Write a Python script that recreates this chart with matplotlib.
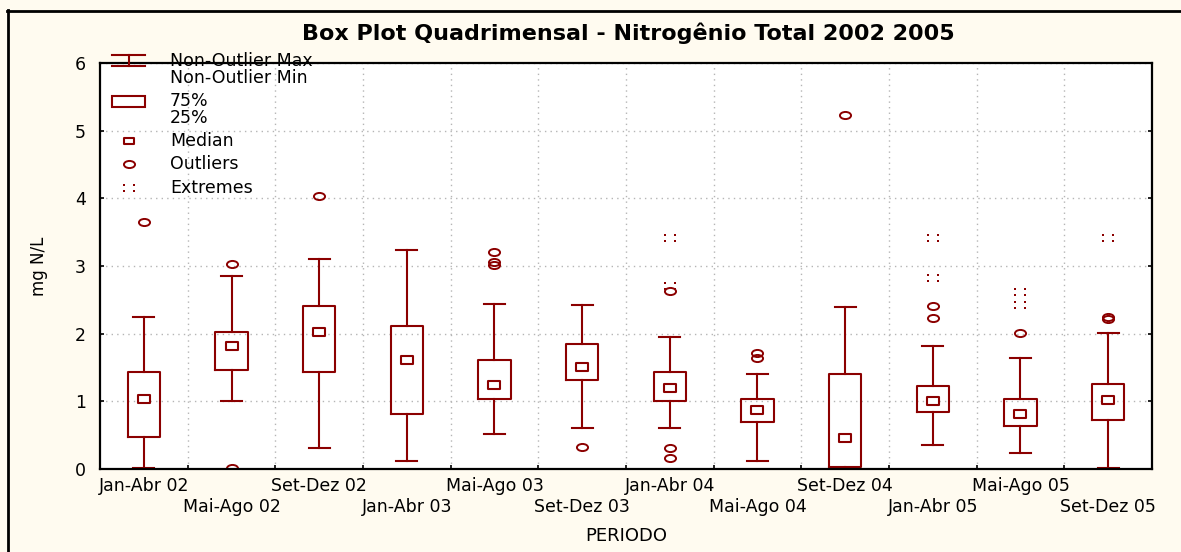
import numpy as np
import matplotlib
matplotlib.use('Agg')
import matplotlib.pyplot as plt
from matplotlib.path import Path
from matplotlib.lines import Line2D
from matplotlib.patches import Rectangle
import matplotlib.transforms as mtransforms

# data (mg N/L)
periods = ['Jan-Abr 02', 'Mai-Ago 02', 'Set-Dez 02', 'Jan-Abr 03', 'Mai-Ago 03', 'Set-Dez 03',
           'Jan-Abr 04', 'Mai-Ago 04', 'Set-Dez 04', 'Jan-Abr 05', 'Mai-Ago 05', 'Set-Dez 05']
whis_lo = [0.01, 1.00, 0.31, 0.12, 0.51, 0.60, 0.60, 0.12, 0.01, 0.36, 0.24, 0.01]
q1 = [0.48, 1.47, 1.43, 0.81, 1.04, 1.32, 1.01, 0.69, 0.03, 0.84, 0.63, 0.73]
median = [1.04, 1.82, 2.02, 1.61, 1.24, 1.51, 1.20, 0.87, 0.46, 1.00, 0.82, 1.02]
q3 = [1.43, 2.02, 2.41, 2.12, 1.61, 1.84, 1.43, 1.03, 1.41, 1.23, 1.03, 1.26]
whis_hi = [2.24, 2.85, 3.11, 3.23, 2.44, 2.43, 1.95, 1.41, 2.40, 1.82, 1.64, 2.01]
outliers = [[3.65], [3.03, 0.01], [4.03], [], [3.21, 3.06, 3.02], [0.33],
            [2.63, 0.31, 0.16], [1.71, 1.64], [5.23], [2.41, 2.23], [2.01], [2.24, 2.21]]
extremes = [[], [], [], [], [], [], [3.41, 2.70], [], [], [3.41, 2.82], [2.62, 2.42], [3.42]]

RED = '#8B0000'
BG = '#FFFBF0'
W, H = 1181, 552

# marker shapes
ellipse = Path.unit_circle().transformed(mtransforms.Affine2D().scale(1, 0.64))
rect = Path([(-1, -0.62), (1, -0.62), (1, 0.62), (-1, 0.62), (-1, -0.62)],
            [Path.MOVETO, Path.LINETO, Path.LINETO, Path.LINETO, Path.CLOSEPOLY])
verts, codes = [], []
for cx in (-1, 1):
    for cy in (-0.62, 0.62):
        s = 0.2
        verts += [(cx - s, cy - s), (cx + s, cy - s), (cx + s, cy + s), (cx - s, cy + s), (cx - s, cy - s)]
        codes += [Path.MOVETO, Path.LINETO, Path.LINETO, Path.LINETO, Path.CLOSEPOLY]
dots = Path(verts, codes)

fig = plt.figure(figsize=(W / 100, H / 100), dpi=100, facecolor=BG)
ax = fig.add_axes([100 / W, 83 / H, 1052 / W, 406 / H])
ax.set_facecolor('white')

stats = []
for i in range(len(periods)):
    stats.append({'med': median[i], 'q1': q1[i], 'q3': q3[i], 'whislo': whis_lo[i],
                  'whishi': whis_hi[i], 'fliers': outliers[i], 'mean': median[i]})

pos = np.arange(1, len(periods) + 1)
line_kw = dict(color=RED, linewidth=1.5)
ax.bxp(stats, positions=pos, widths=0.37, capwidths=0.24, showmeans=True, meanline=False,
       boxprops=line_kw, whiskerprops=line_kw, capprops=line_kw,
       medianprops=dict(linewidth=0),
       meanprops=dict(marker=rect, markersize=8.8, markerfacecolor='white',
                      markeredgecolor=RED, markeredgewidth=1.5, linestyle='none'),
       flierprops=dict(marker=ellipse, markersize=8, markerfacecolor='none',
                       markeredgecolor=RED, markeredgewidth=1.4, linestyle='none'),
       manage_ticks=False)

for i, ext in enumerate(extremes):
    if ext:
        ax.plot([pos[i]] * len(ext), ext, linestyle='none', marker=dots, markersize=8,
                markerfacecolor=RED, markeredgewidth=0)

ax.set_xlim(0.5, 12.5)
ax.set_ylim(0, 6)
ax.set_yticks(range(0, 7))
ax.set_xticks(pos)
ax.set_xticklabels([p if i % 2 == 0 else '\n' + p for i, p in enumerate(periods)])
ax.set_xticks(np.arange(1.5, 12, 1), minor=True)
ax.tick_params(axis='x', which='major', length=0, pad=6, labelsize=12.5)
ax.tick_params(axis='x', which='minor', direction='in', length=3, width=1.2)
ax.tick_params(axis='y', direction='in', right=True, length=3, width=1.2, labelsize=12.5, pad=10)
ax.set_axisbelow(True)
ax.grid(which='minor', axis='x', linestyle=(0, (1, 3)), color='#b5b5b5', linewidth=1)
ax.grid(which='major', axis='y', linestyle=(0, (1, 3)), color='#b5b5b5', linewidth=1)
ax.grid(which='major', axis='x', visible=False)
for sp in ax.spines.values():
    sp.set_linewidth(1.6)

ax.set_xlabel('PERIODO', fontsize=13)
ax.xaxis.set_label_coords(0.5, (469 - 527) / 406)
ax.set_ylabel('mg N/L', fontsize=12)
ax.yaxis.set_label_coords((48 - 100) / 1052, 0.5)

fig.text(628 / W, 1 - 33 / H, 'Box Plot Quadrimensal - Nitrogênio Total 2002 2005',
         ha='center', va='center', fontsize=16, fontweight='bold')

# outer frame (left and top edges visible)
fig.add_artist(Line2D([7.5 / W, 7.5 / W], [0, 1 - 10 / H], color='black', linewidth=2))
fig.add_artist(Line2D([7 / W, 1], [1 - 10.5 / H, 1 - 10.5 / H], color='black', linewidth=2))


# legend, drawn by hand in pixel positions
def fx(x):
    return x / W


def fy(y):
    return 1 - y / H


tf = fig.transFigure
for xs, ys in [([112, 145], [55, 55]), ([112, 145], [66, 66]), ([128.5, 128.5], [55, 66])]:
    ax.add_line(Line2D([fx(v) for v in xs], [fy(v) for v in ys], transform=tf,
                       color=RED, linewidth=1.5, clip_on=False, zorder=3))
ax.add_patch(Rectangle((fx(112), fy(107)), fx(145) - fx(112), fy(96) - fy(107), transform=tf,
                       facecolor='white', edgecolor=RED, linewidth=1.5, clip_on=False, zorder=3))
ax.add_line(Line2D([fx(129)], [fy(141)], transform=tf, marker=rect, markersize=7.5,
                   markerfacecolor='white', markeredgecolor=RED, markeredgewidth=1.5,
                   clip_on=False, zorder=3))
ax.add_line(Line2D([fx(129)], [fy(164)], transform=tf, marker=ellipse, markersize=8,
                   markerfacecolor='none', markeredgecolor=RED, markeredgewidth=1.4,
                   clip_on=False, zorder=3))
ax.add_line(Line2D([fx(129)], [fy(188)], transform=tf, marker=dots, markersize=8,
                   markerfacecolor=RED, markeredgewidth=0, clip_on=False, zorder=3))

legend_rows = [('Non-Outlier Max', 61), ('Non-Outlier Min', 78), ('75%', 101),
               ('25%', 118), ('Median', 141), ('Outliers', 164), ('Extremes', 188)]
for label, yy in legend_rows:
    t = ax.text(fx(170), fy(yy), label, transform=tf, ha='left', va='center',
                fontsize=12.5, zorder=2, clip_on=True)
    clip = Rectangle((0, 0), fx(320), 1, transform=tf)
    t.set_clip_path(clip)

fig.savefig('out.png', dpi=100, facecolor=BG)
